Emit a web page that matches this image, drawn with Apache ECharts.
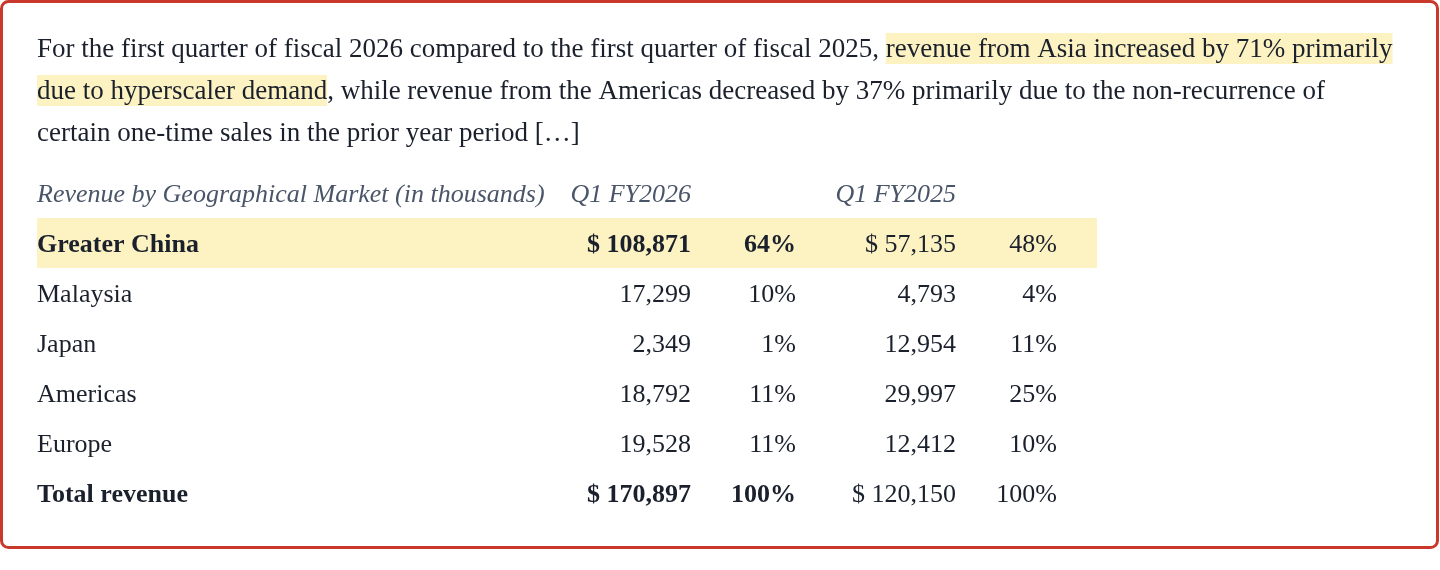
<!DOCTYPE html>
<html>
<head>
<meta charset="utf-8">
<script src="https://cdn.jsdelivr.net/npm/echarts@6/dist/echarts.min.js"></script>
<style>
  html, body { margin: 0; padding: 0; background: #fff; }
  #main { width: 1440px; height: 570px; }
</style>
</head>
<body>
<div id="main"></div>
<script>
// table data (in thousands)
var rowNames = ['Greater China', 'Malaysia', 'Japan', 'Americas', 'Europe', 'Total revenue'];
var fy2026Values = [108871, 17299, 2349, 18792, 19528, 170897];
var fy2026Share = [64, 10, 1, 11, 11, 100];
var fy2025Values = [57135, 4793, 12954, 29997, 12412, 120150];
var fy2025Share = [48, 4, 11, 25, 10, 100];
var headers = ['Revenue by Geographical Market (in thousands)', 'Q1 FY2026', 'Q1 FY2025'];
var boldRows = ['Greater China', 'Total revenue'];
var highlightRow = 'Greater China';

var FONT = '"Liberation Serif", "Times New Roman", serif';
var INK = '#1a202c';
var MUTED = '#4a5568';
var HL = '#fdf2c2';

// column anchors on the hidden x axis
var col = { label: 37, v26: 691, s26: 796, v25: 956, s25: 1057, rowEnd: 1097 };

function fmt(n, dollar) {
	var s = n.toLocaleString('en-US');
	return dollar ? '$ ' + s : s;
}

var yCats = ['__header'].concat(rowNames);

// one item per cell: [x anchor, row, text, align, bold, italic, color]
var cells = [];
cells.push([col.label, 0, headers[0], 'left', false, true, MUTED]);
cells.push([col.v26, 0, headers[1], 'right', false, true, MUTED]);
cells.push([col.v25, 0, headers[2], 'right', false, true, MUTED]);
rowNames.forEach(function(name, i) {
	var r = i + 1;
	var b = boldRows.indexOf(name) >= 0;
	var dollar = (i == 0 || i == rowNames.length - 1);
	cells.push([col.label, r, name, 'left', b, false, INK]);
	cells.push([col.v26, r, fmt(fy2026Values[i], dollar), 'right', b, false, INK]);
	cells.push([col.s26, r, fy2026Share[i] + '%', 'right', b, false, INK]);
	cells.push([col.v25, r, fmt(fy2025Values[i], dollar), 'right', false, false, INK]);
	cells.push([col.s25, r, fy2025Share[i] + '%', 'right', false, false, INK]);
});

var bands = [[col.label, yCats.indexOf(highlightRow), col.rowEnd]];

// paragraph lines, [text, highlighted]
var para = [
	[['For the first quarter of fiscal 2026 compared to the first quarter of fiscal 2025, ', false], ['revenue from Asia increased by 71% primarily', true]],
	[['due to hyperscaler demand', true], [', while revenue from the Americas decreased by 37% primarily due to the non-recurrence of', false]],
	[['certain one-time sales in the prior year period […]', false]]
];

var paraGraphics = para.map(function(line, i) {
	var txt = line.map(function(seg) {
		return '{' + (seg[1] ? 'hl' : 'n') + '|' + seg[0] + '}';
	}).join('');
	return {
		type: 'text',
		x: 37,
		y: 33 + i * 42,
		style: {
			text: txt,
			align: 'left',
			verticalAlign: 'top',
			rich: {
				n: { fontFamily: FONT, fontSize: 27, fill: INK, padding: [3, 0, 1, 0] },
				hl: { fontFamily: FONT, fontSize: 27, fill: INK, padding: [3, 0, 1, 0], backgroundColor: HL }
			}
		}
	};
});

var myChart = echarts.init(document.getElementById('main'), null, { renderer: 'canvas' });

var option = {
	animation: false,
	backgroundColor: '#fff',
	grid: { left: 0, right: 0, top: 168, height: 350 },
	xAxis: { type: 'value', min: 0, max: 1440, show: false },
	yAxis: { type: 'category', data: yCats, inverse: true, show: false },
	graphic: [{
		type: 'rect',
		shape: { x: 1.5, y: 1.5, width: 1436, height: 546, r: 7 },
		style: { fill: 'none', stroke: '#c8392b', lineWidth: 3 },
		z: 10
	}].concat(paraGraphics),
	series: [{
		type: 'custom',
		data: bands,
		z: 1,
		renderItem: function(params, api) {
			var p0 = api.coord([api.value(0), api.value(1)]);
			var p1 = api.coord([api.value(2), api.value(1)]);
			var h = api.size([0, 1])[1];
			return {
				type: 'rect',
				shape: { x: p0[0], y: p0[1] - h / 2, width: p1[0] - p0[0], height: h },
				style: { fill: HL }
			};
		}
	}, {
		type: 'custom',
		data: cells,
		z: 2,
		renderItem: function(params, api) {
			var d = cells[params.dataIndex];
			var p = api.coord([d[0], d[1]]);
			return {
				type: 'text',
				x: p[0],
				y: p[1] + 2,
				style: {
					text: d[2],
					align: d[3],
					verticalAlign: 'middle',
					fontFamily: FONT,
					fontSize: 26,
					fontWeight: d[4] ? 'bold' : 'normal',
					fontStyle: d[5] ? 'italic' : 'normal',
					fill: d[6]
				}
			};
		}
	}]
};
myChart.setOption(option);
</script>
</body>
</html>
